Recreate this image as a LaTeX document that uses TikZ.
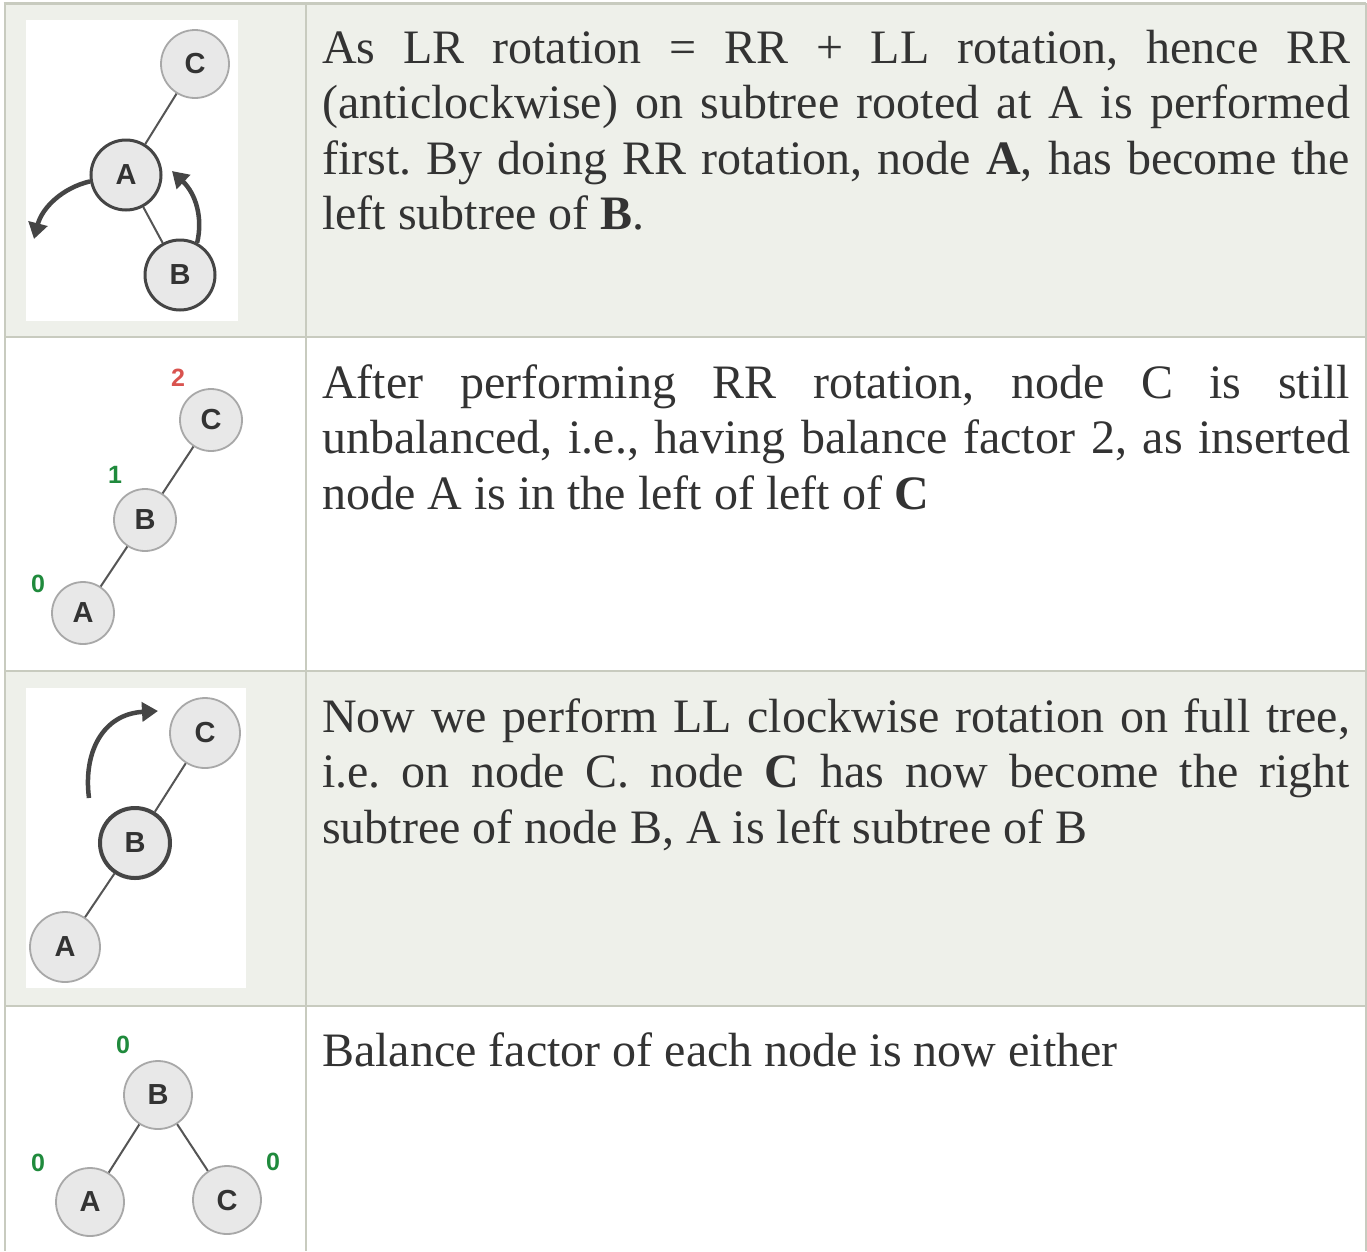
\documentclass[tikz,border=0pt]{standalone}
\usepackage{fontspec}
\setmainfont{Liberation Serif}
\newfontfamily\nodefont{Liberation Sans}
\usetikzlibrary{arrows.meta}
\definecolor{rowgrey}{HTML}{EEF0EA}
\definecolor{rule}{HTML}{C8CBBF}
\definecolor{txt}{HTML}{333333}
\definecolor{nodefill}{HTML}{E8E8E8}
\definecolor{nodeline}{HTML}{A8A8A8}
\definecolor{darkline}{HTML}{454545}
\definecolor{edgec}{HTML}{555555}
\definecolor{bfgreen}{HTML}{1F8A3C}
\definecolor{bfred}{HTML}{D9534F}
\newcommand{\jline}[1]{\hbox to 1028pt{#1}}
\newcommand{\lline}[1]{\hbox{#1}}
\frenchspacing
\begin{document}
\begin{tikzpicture}[x=1pt,y=-1pt,
  treenode/.style={circle,draw=nodeline,line width=1.8pt,fill=nodefill,minimum size=#1,inner sep=0pt,
     font=\nodefont\bfseries\fontsize{29}{29}\selectfont,text=txt},
  treenode/.default=66pt,
  strong/.style={draw=darkline,line width=3pt},
  stronger/.style={draw=darkline,line width=4pt},
  treeedge/.style={draw=edgec,line width=2pt},
  rotarrow/.style={draw=darkline,line width=4.5pt,-{Triangle[length=16pt,width=19pt]}},
  bf/.style={font=\nodefont\bfseries\fontsize{25}{25}\selectfont,inner sep=0pt},
  para/.style={anchor=base west,inner sep=0pt,text=txt,font=\fontsize{48}{55.5}\selectfont},
  imgbox/.style={fill=white,draw=none}
]
\useasboundingbox (0,0) rectangle (1367,1251);
\fill[white] (0,0) rectangle (1367,1251);
% row backgrounds
\fill[rowgrey] (5,3) rectangle (1366,337);
\fill[rowgrey] (5,671) rectangle (1366,1006);
% grid lines
\draw[rule,line width=3pt] (3.5,3) -- (1366,3);
\draw[rule,line width=2.5pt] (5,2) -- (5,1251);
\draw[rule,line width=2pt] (1365.5,3) -- (1365.5,1251);
\draw[rule,line width=2pt] (305.5,3) -- (305.5,1251);
\draw[rule,line width=2.5pt] (5,337) -- (1366,337);
\draw[rule,line width=2.5pt] (5,671) -- (1366,671);
\draw[rule,line width=2.5pt] (5,1006) -- (1366,1006);

% ---------- panel 1 ----------
\fill[imgbox] (26,20) rectangle (238,321);
\node[treenode=68pt] (p1C) at (195,64) {C};
\node[treenode=70pt,strong] (p1A) at (126,175) {A};
\node[treenode=70pt,strong] (p1B) at (180,275) {B};
\draw[treeedge] (p1C) -- (p1A);
\draw[treeedge] (p1A) -- (p1B);
\coordinate (p1l) at (34,239);
\coordinate (p1r) at (172,171);
\draw[rotarrow] (p1A.190) .. controls (62,188) and (42,208) .. (p1l);
\draw[rotarrow] (p1B.62) .. controls (203,218) and (196,194) .. (p1r);

% ---------- panel 2 ----------
\node[treenode=62pt] (p2C) at (211,420) {C};
\node[treenode=62pt] (p2B) at (145,520) {B};
\node[treenode=62pt] (p2A) at (83,613) {A};
\draw[treeedge] (p2C) -- (p2B);
\draw[treeedge] (p2B) -- (p2A);
\node[bf,text=bfred] (p2lc) at (178,378) {2};
\node[bf,text=bfgreen] (p2lb) at (115,475) {1};
\node[bf,text=bfgreen] (p2la) at (38,584) {0};

% ---------- panel 3 ----------
\fill[imgbox] (26,688) rectangle (246,988);
\node[treenode=70pt] (p3C) at (205,733) {C};
\node[treenode=70pt,stronger] (p3B) at (135,843) {B};
\node[treenode=70pt] (p3A) at (65,947) {A};
\draw[treeedge] (p3C) -- (p3B);
\draw[treeedge] (p3B) -- (p3A);
\coordinate (p3s) at (89,798);
\coordinate (p3e) at (158,711);
\draw[rotarrow] (p3s) .. controls (83,752) and (103,714) .. (p3e);

% ---------- panel 4 ----------
\node[treenode=68pt] (p4B) at (158,1095) {B};
\node[treenode=68pt] (p4A) at (90,1202) {A};
\node[treenode=68pt] (p4C) at (227,1200) {C};
\draw[treeedge] (p4B) -- (p4A);
\draw[treeedge] (p4B) -- (p4C);
\node[bf,text=bfgreen] (p4lb) at (123,1045) {0};
\node[bf,text=bfgreen] (p4la) at (38,1163) {0};
\node[bf,text=bfgreen] (p4lc) at (273,1162) {0};

% ---------- texts ----------
\node[para] (t1) at (322,63) {\parbox[t]{1028pt}{\baselineskip=55.5pt
\jline{As LR rotation = RR + LL rotation, hence RR}
\jline{(anticlockwise) on subtree rooted at A is performed}
\jline{first. By doing RR rotation, node \textbf{A}, has become the}
\lline{left subtree of \textbf{B}.}}};
\node[para] (t2) at (322,398) {\parbox[t]{1028pt}{\baselineskip=55.5pt
\jline{After performing RR rotation, node C is still}
\jline{unbalanced, i.e., having balance factor 2, as inserted}
\lline{node A is in the left of left of \textbf{C}}}};
\node[para] (t3) at (322,732) {\parbox[t]{1028pt}{\baselineskip=55.5pt
\jline{Now we perform LL clockwise rotation on full tree,}
\jline{i.e. on node C. node \textbf{C} has now become the right}
\lline{subtree of node B, A is left subtree of B}}};
\node[para] (t4) at (322,1066) {\parbox[t]{1028pt}{\baselineskip=55.5pt
\lline{Balance factor of each node is now either}}};
\end{tikzpicture}
\end{document}
